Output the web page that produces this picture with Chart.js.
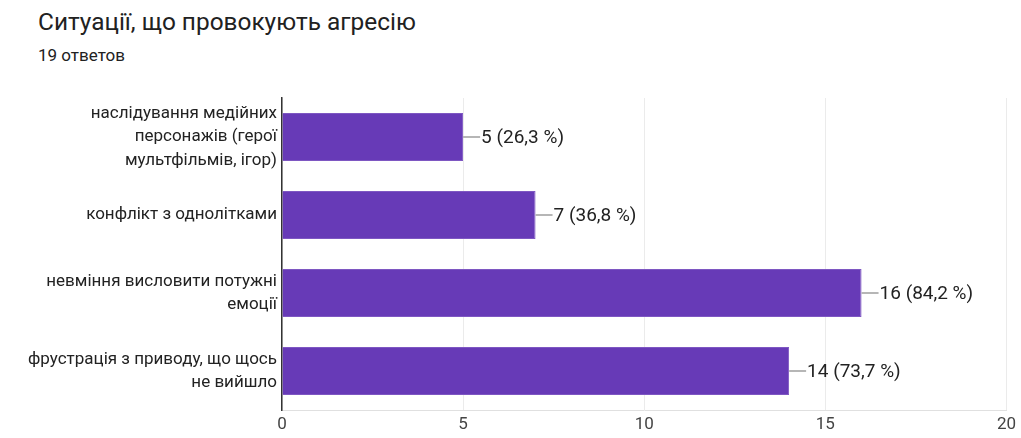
<!DOCTYPE html>
<html>
<head>
<meta charset="utf-8">
<script src="https://cdn.jsdelivr.net/npm/chart.js@4"></script>
<style>
  body { margin: 0; background: #fff; font-family: Roboto, sans-serif; }
  .wrap { position: relative; width: 1021px; height: 438px; overflow: hidden; }
  .title { position: absolute; left: 38px; top: 7px; font-size: 24.4px; color: #212121; }
  .sub { position: absolute; left: 38px; top: 45px; font-size: 17px; color: #212121; }
  canvas { position: absolute; left: 0; top: 0; }
</style>
</head>
<body>
<div class="wrap">
  <div class="title">Ситуації, що провокують агресію</div>
  <div class="sub">19 ответов</div>
  <canvas id="chart" width="1021" height="438"></canvas>
</div>
<script>
// ===========================
// DATA
// ===========================
const categories = [
  ['наслідування медійних', 'персонажів (герої', 'мультфільмів, ігор)'],
  ['конфлікт з однолітками'],
  ['невміння висловити потужні', 'емоції'],
  ['фрустрація з приводу, що щось', 'не вийшло']
];
const counts = [5, 7, 16, 14];
const percents = ['26,3', '36,8', '84,2', '73,7'];
const xTicks = [0, 5, 10, 15, 20];

// leader line + value label drawn after the bars
const valueLabels = {
  id: 'valueLabels',
  afterDatasetsDraw(chart) {
    const ctx = chart.ctx;
    const meta = chart.getDatasetMeta(0);
    ctx.save();
    ctx.font = '19px Roboto';
    ctx.textBaseline = 'middle';
    meta.data.forEach((bar, i) => {
      const x = bar.x, y = bar.y;
      ctx.strokeStyle = '#9e9e9e';
      ctx.lineWidth = 1.5;
      ctx.beginPath();
      ctx.moveTo(x, y);
      ctx.lineTo(x + 17, y);
      ctx.stroke();
      ctx.fillStyle = '#222';
      ctx.fillText(`${counts[i]} (${percents[i]} %)`, x + 18, y + 1);
    });
    ctx.restore();
  }
};

new Chart(document.getElementById('chart').getContext('2d'), {
  type: 'bar',
  data: {
    labels: categories,
    datasets: [{
      data: counts,
      backgroundColor: '#673ab7',
      borderColor: '#7e57c2',
      borderWidth: 1,
      borderSkipped: 'start',
      barPercentage: 0.615,
      categoryPercentage: 1
    }]
  },
  options: {
    indexAxis: 'y',
    responsive: false,
    animation: false,
    layout: { padding: { top: 98, right: 13, left: 0, bottom: 0 } },
    scales: {
      x: {
        min: 0,
        max: 20,
        afterBuildTicks: axis => { axis.ticks = xTicks.map(v => ({ value: v })); },
        afterFit: axis => { axis.height = 28; },
        grid: { color: '#ebebeb', drawTicks: false },
        border: { color: '#e0e0e0' },
        ticks: { color: '#444', padding: 5, font: { size: 17, family: 'Roboto' } }
      },
      y: {
        afterFit: axis => {
          axis.width = 282;
          axis.paddingTop = 0;
          axis.paddingBottom = 0;
        },
        grid: { display: false, drawTicks: false },
        border: { color: '#333', width: 1.5 },
        ticks: {
          color: '#222',
          padding: 5,
          font: { size: 17, family: 'Roboto', lineHeight: 1.38 }
        }
      }
    },
    plugins: {
      legend: { display: false },
      tooltip: { enabled: false }
    }
  },
  plugins: [valueLabels]
});
</script>
</body>
</html>
